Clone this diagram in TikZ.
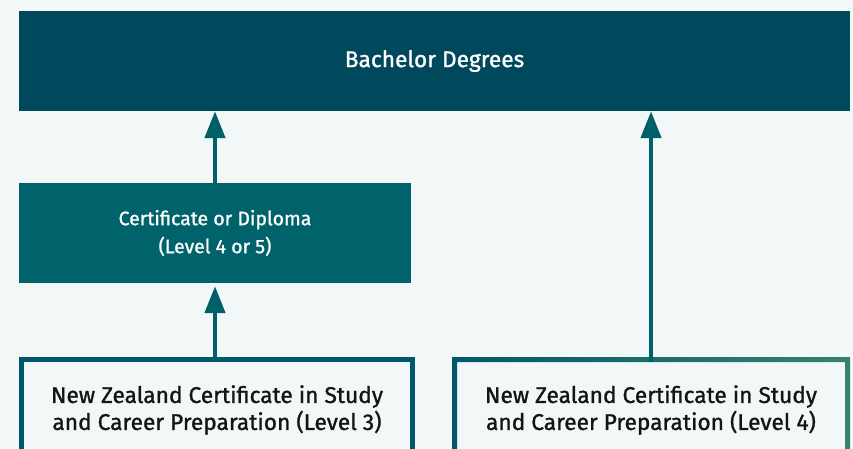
\documentclass[tikz,border=0pt]{standalone}
\usepackage{fontspec}
\setmainfont{Fira Sans}[FakeBold=1.1]
\usetikzlibrary{arrows.meta}

\definecolor{bgpale}{HTML}{F2F7F8}
\definecolor{topteal}{HTML}{00495D}
\definecolor{midteal}{HTML}{00636B}
\definecolor{arrowteal}{HTML}{006068}
\definecolor{edgeteal}{HTML}{00586A}
\definecolor{edgegreen}{HTML}{3A806E}

\tikzset{
  darkbox/.style={fill=#1, text=white, inner sep=0pt, align=center},
  pathbox/.style={fill=bgpale, text=black!92, inner sep=0pt, align=center,
    font=\fontsize{22.7}{27}\selectfont},
  uparrow/.style={-{Triangle[width=20pt,length=27pt]}, line width=4.5pt, arrowteal}
}

\begin{document}
\begin{tikzpicture}[x=1pt,y=-1pt]
\fill[bgpale] (0,0) rectangle (853,449);
\clip (0,0) rectangle (853,449);
% Top row
\node[darkbox=topteal, minimum width=831pt, minimum height=100pt,
  font=\fontsize{22.7}{24}\selectfont] (bach) at (434.5,61) {Bachelor Degrees};
% Middle row
\node[darkbox=midteal, minimum width=392pt, minimum height=100pt,
  font=\fontsize{19.5}{28}\selectfont] (certdip) at (215,233)
  {Certificate or Diploma\\(Level 4 or 5)};
% Bottom row, left
\node[pathbox, draw=edgeteal, line width=5pt, minimum width=391pt, minimum height=101pt]
  (nzcl3) at (217,410) {New Zealand Certificate in Study\\and Career Preparation (Level 3)};
% Bottom row, right (shaded frame)
\node[pathbox, outer sep=0pt, minimum width=388pt, minimum height=96pt]
  (nzcl4) at (651,410) {New Zealand Certificate in Study\\and Career Preparation (Level 4)};
\shade[even odd rule, left color=edgeteal, right color=edgegreen]
  ([xshift=-5pt,yshift=5pt]nzcl4.north west) rectangle ([xshift=5pt,yshift=-5pt]nzcl4.south east)
  (nzcl4.north west) rectangle (nzcl4.south east);
% Arrows
\draw[uparrow] (certdip.north) -- (certdip.north |- bach.south);
\draw[uparrow, shorten >=3pt] (certdip.south |- nzcl3.north) -- (certdip.south);
\draw[uparrow] (nzcl4.north) -- (nzcl4.north |- bach.south);
\end{tikzpicture}
\end{document}
